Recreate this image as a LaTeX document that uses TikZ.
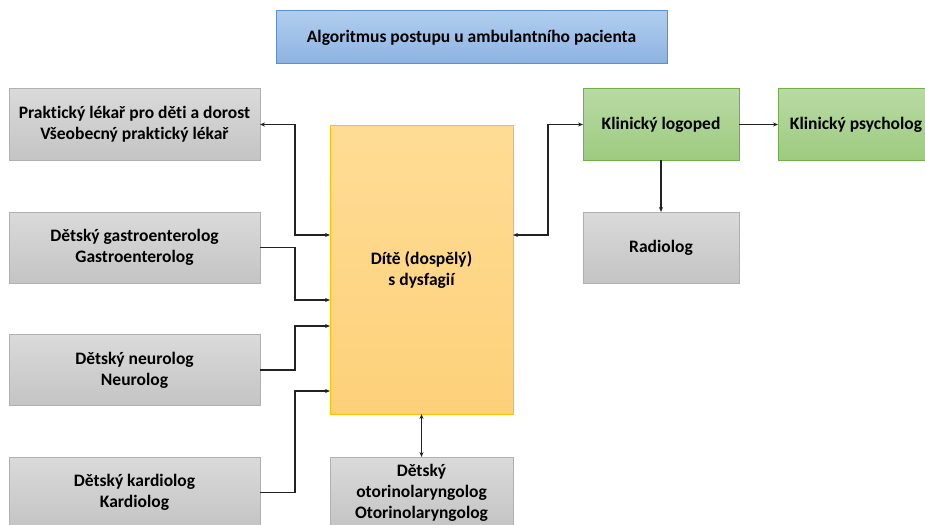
\documentclass[tikz,border=0pt]{standalone}
\usepackage{fontspec}
\setmainfont[Ligatures=NoCommon]{Carlito}
\usetikzlibrary{calc,arrows.meta}
\definecolor{grayT}{HTML}{DADADA}
\definecolor{grayB}{HTML}{C4C4C4}
\definecolor{grayL}{HTML}{B0B0B0}
\definecolor{greenT}{HTML}{B9DAA4}
\definecolor{greenB}{HTML}{9DCB7F}
\definecolor{greenL}{HTML}{72AE4A}
\definecolor{yelT}{HTML}{FFDC95}
\definecolor{yelB}{HTML}{FDD17A}
\definecolor{yelL}{HTML}{FFC000}
\definecolor{blueT}{HTML}{B0CDEE}
\definecolor{blueB}{HTML}{8DB3E2}
\definecolor{blueL}{HTML}{5B8FD0}
\definecolor{lineC}{HTML}{222222}
\begin{document}
\begin{tikzpicture}[x=1pt,y=-1pt,
  box/.style={rectangle,inner sep=2pt,outer sep=0pt,align=center,line width=1pt,
    font=\fontsize{17.5}{21}\selectfont\bfseries},
  graybox/.style={box,draw=grayL,top color=grayT,bottom color=grayB},
  greenbox/.style={box,draw=greenL,top color=greenT,bottom color=greenB},
  yelbox/.style={box,draw=yelL,top color=yelT,bottom color=yelB},
  bluebox/.style={box,draw=blueL,top color=blueT,bottom color=blueB},
  conn/.style={line width=1.1pt,draw=lineC,-{Stealth[length=5pt,width=4pt]}},
  bconn/.style={line width=1.1pt,draw=lineC,{Stealth[length=5pt,width=4pt]}-{Stealth[length=5pt,width=4pt]}}
]
\useasboundingbox (0,0) rectangle (925,524);
\fill[white] (0,0) rectangle (925,524);
\begin{scope}
\clip (0,0) rectangle (925,524);
\node[bluebox,minimum width=391pt,minimum height=53pt] (title) at (471.5,37.5) {Algoritmus postupu u ambulantního pacienta};
\node[graybox,minimum width=251pt,minimum height=71pt] (p1) at (134.5,124.5) {Praktický lékař pro děti a dorost\\Všeobecný praktický lékař};
\node[graybox,minimum width=251pt,minimum height=71pt] (p2) at (134.5,247.5) {Dětský gastroenterolog\\Gastroenterolog};
\node[graybox,minimum width=251pt,minimum height=71pt] (p3) at (134.5,370) {Dětský neurolog\\Neurolog};
\node[graybox,minimum width=251pt,minimum height=71pt] (p4) at (134.5,492.5) {Dětský kardiolog\\Kardiolog};
\node[yelbox,minimum width=183pt,minimum height=289pt] (yel) at (421.5,269.5) {Dítě (dospělý)\\s dysfagií};
\node[graybox,minimum width=183pt,minimum height=71pt] (oto) at (421.5,492.5) {Dětský\\otorinolaryngolog\\Otorinolaryngolog};
\node[greenbox,minimum width=156pt,minimum height=71pt] (logo) at (661,124.5) {Klinický logoped};
\node[greenbox,minimum width=156pt,minimum height=71pt] (psych) at (856,124.5) {Klinický psycholog};
\node[graybox,minimum width=156pt,minimum height=71pt] (radio) at (661,247.5) {Radiolog};

\draw[bconn] (p1.east) -- ++(35,0) |- ($(yel.north west)+(0,110)$);
\draw[conn] (p2.east) -- ++(35,0) |- ($(yel.north west)+(0,175)$);
\draw[conn] (p3.east) -- ++(35,0) |- ($(yel.north west)+(0,201)$);
\draw[conn] (p4.east) -- ++(35,0) |- ($(yel.north west)+(0,266)$);
\draw[bconn] ($(yel.north east)+(0,110)$) -- ++(35,0) |- (logo.west);
\draw[conn] (logo.east) -- (psych.west);
\draw[conn] (logo.south) -- (radio.north);
\draw[bconn] (yel.south) -- (oto.north);
\end{scope}
\end{tikzpicture}
\end{document}
